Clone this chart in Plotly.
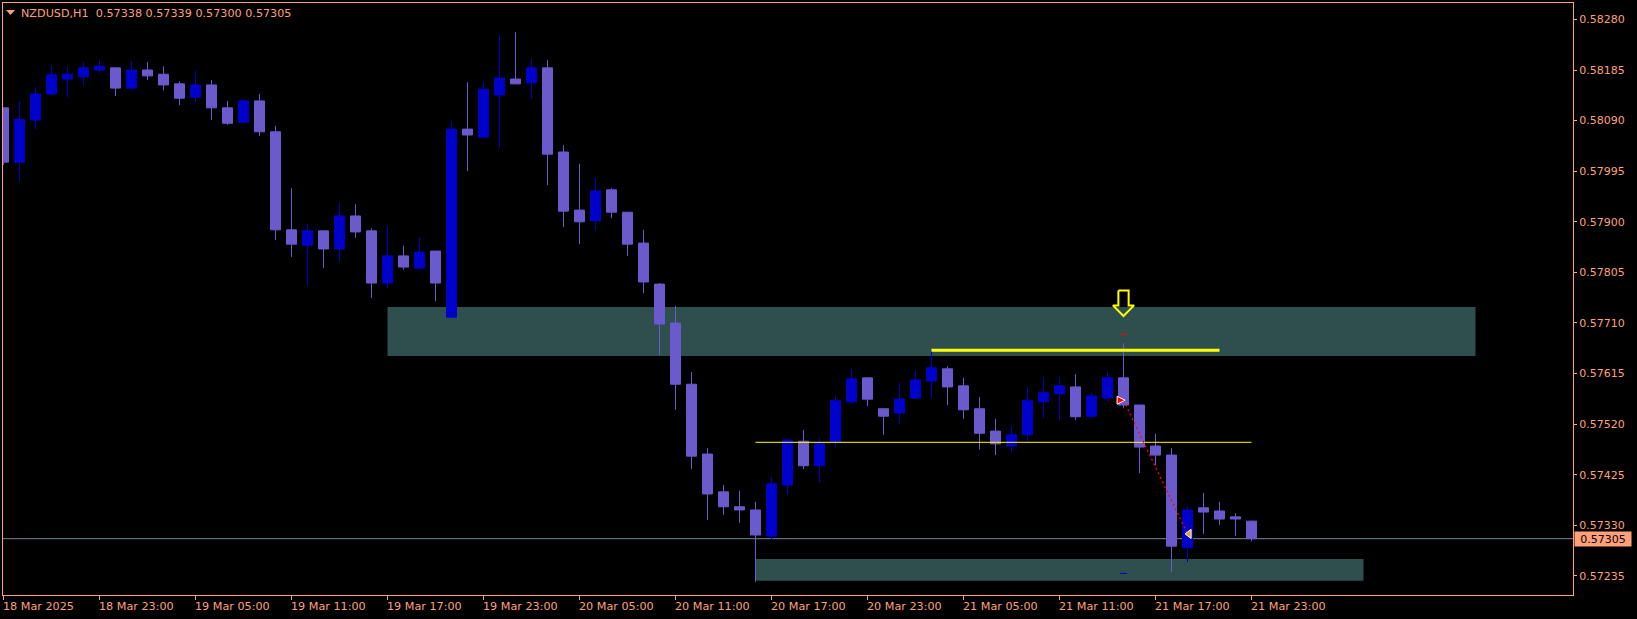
import numpy as np
import plotly.graph_objects as go

# Prices in points (1e-5)
OPEN = [58114,58012,58091,58140,58168,58172,58185,58189,58151,58185,58177,58159,58134,58157,58114,58087,58127,58069,57885,57856,
        57883,57849,57911,57883,57785,57836,57813,57845,57721,58074,58059,58138,58168,58161,58189,58031,57922,57902,57960,57918,
        57860,57783,57710,57595,57464,57393,57365,57359,57310,57406,57488,57442,57487,57562,57607,57549,57541,57569,57601,57624,
        57592,57549,57507,57479,57500,57562,57577,57590,57535,57569,57607,57556,57479,57462,57288,57363,57357,57346,57338]
HIGH = [58114,58126,58152,58194,58191,58200,58204,58189,58202,58200,58192,58164,58183,58166,58127,58131,58140,58080,57963,57896,
        57883,57935,57933,57888,57892,57855,57871,57845,58089,58162,58161,58249,58256,58206,58204,58044,58009,57982,57963,57918,
        57885,57785,57742,57618,57475,57406,57395,57374,57421,57494,57509,57494,57573,57624,57607,57550,57597,57620,57657,57629,
        57607,57571,57530,57517,57588,57609,57609,57614,57579,57618,57672,57556,57502,57475,57366,57391,57374,57353,57339]
LOW = [58007,57975,58074,58136,58134,58157,58179,58136,58147,58166,58147,58119,58125,58091,58082,58085,58061,57866,57834,57781,
       57813,57825,57870,57757,57776,57810,57813,57751,57721,57995,58059,58039,58159,58131,57969,57890,57858,57883,57907,57836,
       57766,57650,57547,57436,57340,57350,57335,57224,57303,57387,57436,57410,57477,57558,57554,57500,57520,57567,57569,57556,
       57530,57472,57462,57468,57488,57532,57528,57528,57532,57562,57550,57428,57443,57243,57261,57314,57331,57310,57300]
CLOSE = [58012,58092,58140,58176,58177,58189,58192,58151,58185,58174,58157,58132,58157,58114,58085,58127,58069,57885,57858,57883,
         57849,57911,57881,57785,57836,57815,57843,57785,58074,58063,58149,58170,58159,58189,58027,57920,57900,57958,57918,57858,
         57787,57708,57595,57460,57389,57365,57359,57312,57408,57490,57442,57485,57564,57605,57567,57535,57567,57603,57626,57590,
         57547,57503,57483,57500,57564,57579,57592,57534,57573,57607,57556,57477,57462,57291,57359,57355,57342,57342,57305]

TICK_BARS = list(range(0, 79, 6))
TICK_LABELS = ["18 Mar 2025", "18 Mar 23:00", "19 Mar 05:00", "19 Mar 11:00", "19 Mar 17:00", "19 Mar 23:00",
               "20 Mar 05:00", "20 Mar 11:00", "20 Mar 17:00", "20 Mar 23:00", "21 Mar 05:00", "21 Mar 11:00",
               "21 Mar 17:00", "21 Mar 23:00"]
PRICE_TICKS = [58280, 58185, 58090, 57995, 57900, 57805, 57710, 57615, 57520, 57425, 57330, 57235]

LAST_PRICE = 57305
UPPER_ZONE = dict(bars=[24, 92], prices=[57648, 57740])
LOWER_ZONE = dict(bars=[47, 85], prices=[57226, 57267])
THICK_LINE = dict(bars=[58, 76], price=57659)
THIN_LINE = dict(bars=[47, 78], price=57486)
TRADE_BARS = [70, 74]
TRADE_PRICES = [57565, 57314]
ARROW_BAR = 70
ARROW_PRICES = dict(top=57771, neck=57743, tip=57723)
RED_DASH_PRICE = 57689
BLUE_DASH_PRICE = 57240

P = 1e-5
SALMON = "#FFA07A"
UP = "#0000CD"
DOWN = "#6A5ACD"
ZONE = "#2F4F4F"
FONT = "DejaVu Sans"

bars = list(range(len(OPEN)))
fig = go.Figure()

fig.add_trace(go.Candlestick(
    x=bars,
    open=np.array(OPEN) * P, high=np.array(HIGH) * P, low=np.array(LOW) * P, close=np.array(CLOSE) * P,
    increasing=dict(line=dict(color=UP, width=1), fillcolor=UP),
    decreasing=dict(line=dict(color=DOWN, width=1), fillcolor=DOWN),
    whiskerwidth=0, hoverinfo="skip", showlegend=False,
))

def line(xs, ys, color, width, dash=None):
    fig.add_trace(go.Scatter(x=xs, y=np.array(ys) * P, mode="lines", hoverinfo="skip", showlegend=False,
                             line=dict(color=color, width=width, dash=dash)))

line(THICK_LINE["bars"], [THICK_LINE["price"]] * 2, "#FFFF00", 3)
line(THIN_LINE["bars"], [THIN_LINE["price"]] * 2, "#FFFF00", 1)
line(TRADE_BARS, TRADE_PRICES, "#FF0000", 1.3, "2px,3px")
line([ARROW_BAR - 0.22, ARROW_BAR + 0.22], [RED_DASH_PRICE] * 2, "#FF0000", 1)
line([ARROW_BAR - 0.22, ARROW_BAR + 0.22], [BLUE_DASH_PRICE] * 2, UP, 1)

a = ARROW_PRICES
line([ARROW_BAR - 0.32, ARROW_BAR + 0.32, ARROW_BAR + 0.32, ARROW_BAR + 0.66, ARROW_BAR,
      ARROW_BAR - 0.66, ARROW_BAR - 0.32, ARROW_BAR - 0.32],
     [a["top"], a["top"], a["neck"], a["neck"], a["tip"], a["neck"], a["neck"], a["top"]], "#FFFF00", 2)

fig.add_trace(go.Scatter(x=[TRADE_BARS[0] + 0.1], y=[TRADE_PRICES[0] * P], mode="markers", hoverinfo="skip", showlegend=False,
                         marker=dict(symbol="arrow-right", size=8, color="#FF0000", line=dict(color="#FFFFFF", width=1))))
fig.add_trace(go.Scatter(x=[TRADE_BARS[1] + 0.1], y=[TRADE_PRICES[1] * P], mode="markers", hoverinfo="skip", showlegend=False,
                         marker=dict(symbol="triangle-left", size=8, color="#DAA520", line=dict(color="#FFFFFF", width=1))))

shapes = []
for z in (UPPER_ZONE, LOWER_ZONE):
    shapes.append(dict(type="rect", layer="below", xref="x", yref="y", x0=z["bars"][0], x1=z["bars"][1],
                       y0=z["prices"][0] * P, y1=z["prices"][1] * P, fillcolor=ZONE, line=dict(width=0)))
shapes.append(dict(type="line", layer="below", xref="paper", yref="y", x0=0, x1=1,
                   y0=LAST_PRICE * P, y1=LAST_PRICE * P, line=dict(color="#778899", width=1)))
shapes.append(dict(type="path", xref="paper", yref="paper", xsizemode="pixel", ysizemode="pixel", xanchor=0, yanchor=1,
                   path="M3,-7 L12,-7 L7.5,-12 Z", fillcolor=SALMON, line=dict(width=0)))

annotations = [
    dict(xref="paper", yref="y", x=1, y=LAST_PRICE * P, xanchor="left", yanchor="middle", xshift=1, showarrow=False,
         text=f"{LAST_PRICE * P:.5f}", font=dict(family=FONT, size=11, color="#000000"),
         bgcolor=SALMON, width=56, height=14, align="center", borderpad=0),
    dict(xref="paper", yref="paper", x=0, y=1, xanchor="left", yanchor="top", xshift=16, yshift=-2, showarrow=False,
         text="NZDUSD,H1\u00a0\u00a00.57338 0.57339 0.57300 0.57305",
         font=dict(family=FONT, size=11.2, color=SALMON)),
]
for b, label in zip(TICK_BARS, TICK_LABELS):
    annotations.append(dict(xref="x", yref="paper", x=b, y=0, xanchor="left", yanchor="top", yshift=-3, xshift=-3,
                            showarrow=False, text=label, font=dict(family=FONT, size=11.2, color=SALMON)))

fig.update_layout(
    width=1637, height=619,
    margin=dict(l=3, r=64, t=3, b=24, pad=0),
    paper_bgcolor="#000000", plot_bgcolor="#000000",
    boxgap=0.375, boxgroupgap=0,
    showlegend=False, hovermode=False,
    shapes=shapes, annotations=annotations,
    xaxis=dict(
        range=[-0.03125, 98.09375], rangeslider=dict(visible=False), showgrid=False, zeroline=False,
        showline=True, mirror=True, linecolor=SALMON, linewidth=1,
        tickmode="array", tickvals=TICK_BARS, showticklabels=False,
        ticks="outside", ticklen=4, tickcolor=SALMON, tickwidth=1,
    ),
    yaxis=dict(
        range=[0.571993, 0.583108], side="right", showgrid=False, zeroline=False,
        showline=True, mirror=True, linecolor=SALMON, linewidth=1,
        tickmode="array", tickvals=[p * P for p in PRICE_TICKS], tickformat=".5f",
        ticks="outside", ticklen=3, tickcolor=SALMON, tickwidth=1,
        tickfont=dict(family=FONT, size=11, color=SALMON),
    ),
)

fig.write_html("out.html", config=dict(displayModeBar=False),
               post_script="document.body.style.margin='0';document.body.style.background='#000';")
